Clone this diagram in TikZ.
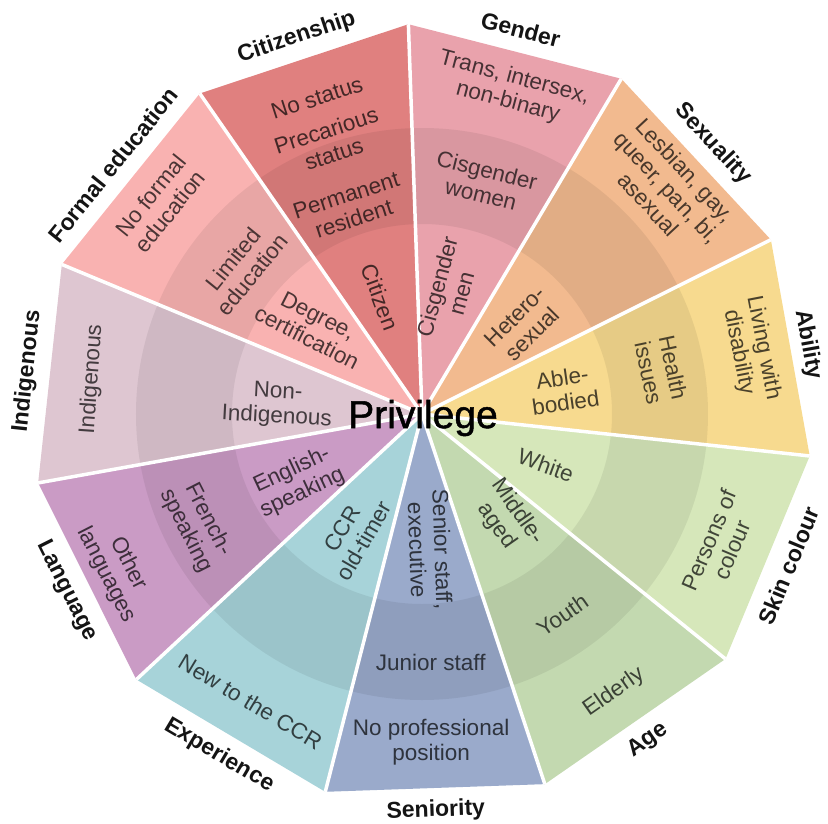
\documentclass[tikz,border=0pt]{standalone}
\usepackage{fontspec}
\setmainfont{Liberation Sans}
\newfontfamily\centrefont[FakeBold=1.3]{Liberation Sans}
\usepackage{xcolor}
\definecolor{citizencol}{HTML}{E0807F}
\definecolor{gendercol}{HTML}{E9A2AC}
\definecolor{sexcol}{HTML}{F2BA8F}
\definecolor{abilitycol}{HTML}{F7DA8F}
\definecolor{skincol}{HTML}{D6E7BA}
\definecolor{agecol}{HTML}{C3D9B0}
\definecolor{senioritycol}{HTML}{9AAACB}
\definecolor{experiencecol}{HTML}{A7D3D9}
\definecolor{languagecol}{HTML}{CA9BC5}
\definecolor{indigenouscol}{HTML}{DEC6D1}
\definecolor{educationcol}{HTML}{F9B2B1}
\tikzstyle{tier} = [align=center, 
inner sep=0pt, 
font=\fontsize{22.5}{25}\selectfont]
\tikzstyle{category} = [inner sep=0pt, 
text=black!92, 
font=\bfseries\fontsize{23}{25}\selectfont]
\tikzstyle{sep} = [line width=3.5pt, white]
\tikzstyle{band} = [fill=black, fill opacity=0.065]

\begin{document}
\begin{tikzpicture}[x=1pt, y=1pt]
  \useasboundingbox (-422,-409) rectangle (406,414);

  \coordinate (o) at (0,0);
  \coordinate (v0) at (92:390);
  \coordinate (v1) at (59.27:390);
  \coordinate (v2) at (26.55:390);
  \coordinate (v3) at (-6.18:390);
  \coordinate (v4) at (-38.91:390);
  \coordinate (v5) at (-71.64:390);
  \coordinate (v6) at (-104.36:390);
  \coordinate (v7) at (-137.09:390);
  \coordinate (v8) at (-169.82:390);
  \coordinate (v9) at (157.45:390);
  \coordinate (v10) at (124.73:390);

  \fill [gendercol] (o) -- (v0) -- (v1) -- cycle;
  \fill [sexcol] (o) -- (v1) -- (v2) -- cycle;
  \fill [abilitycol] (o) -- (v2) -- (v3) -- cycle;
  \fill [skincol] (o) -- (v3) -- (v4) -- cycle;
  \fill [agecol] (o) -- (v4) -- (v5) -- cycle;
  \fill [senioritycol] (o) -- (v5) -- (v6) -- cycle;
  \fill [experiencecol] (o) -- (v6) -- (v7) -- cycle;
  \fill [languagecol] (o) -- (v7) -- (v8) -- cycle;
  \fill [indigenouscol] (o) -- (v8) -- (v9) -- cycle;
  \fill [educationcol] (o) -- (v9) -- (v10) -- cycle;
  \fill [citizencol] (o) -- (v10) -- (v0) -- cycle;

  % middle ring
  \begin{scope}
    \clip (v0) -- (v1) -- (v2) -- (v3) -- (v4) -- (v5) -- (v6) -- (v7) -- (v8) -- (v9) -- (v10) -- cycle;
    \fill [band, even odd rule] (o) circle [radius=286] (o) circle [radius=190];
  \end{scope}

  \draw [sep] (o) -- (v0);
  \draw [sep] (o) -- (v1);
  \draw [sep] (o) -- (v2);
  \draw [sep] (o) -- (v3);
  \draw [sep] (o) -- (v4);
  \draw [sep] (o) -- (v5);
  \draw [sep] (o) -- (v6);
  \draw [sep] (o) -- (v7);
  \draw [sep] (o) -- (v8);
  \draw [sep] (o) -- (v9);
  \draw [sep] (o) -- (v10);

  \node (privilege) [inner sep=0pt, font=\centrefont\fontsize{39}{41}\selectfont] at (1,-4) {Privilege};

  \node (citizenship) [category, rotate=18.4] at (108.4:397) {Citizenship};
  \node (gender) [category, rotate=-14.4] at (75.6:397) {Gender};
  \node (sexuality) [category, rotate=-47.1] at (42.9:397) {Sexuality};
  \node (ability) [category, rotate=-79.8] at (10.2:392) {Ability};
  \node (skin) [category, rotate=67.5] at (-22.5:397) {Skin colour};
  \node (age) [category, rotate=34.7] at (-55.3:397) {Age};
  \node (seniority) [category, rotate=2] at (-88:397) {Seniority};
  \node (experience) [category, rotate=-30.7] at (-120.7:397) {Experience};
  \node (language) [category, rotate=-63.5] at (-153.5:397) {Language};
  \node (indigenous) [category, rotate=83.8] at (173.8:397) {Indigenous};
  \node (education) [category, rotate=51.1] at (141.1:397) {Formal education};

  \node (nostatus) [tier, rotate=18, text=citizencol!30!black] at (108.4:333) {No status};
  \node (precarious) [tier, rotate=18, text=citizencol!30!black] at (108.7:287) {Precarious\\status};
  \node (permanent) [tier, rotate=18, text=citizencol!30!black] at (109.2:219) {Permanent\\resident};
  \node (citizen) [tier, rotate=-70, text=citizencol!30!black] at (109.7:124) {Citizen};

  \node (trans) [tier, rotate=-15, text=gendercol!30!black] at (74.6:336) {Trans, intersex,\\non-binary};
  \node (ciswomen) [tier, rotate=-14, text=gendercol!30!black] at (75:240) {Cisgender\\women};
  \node (cismen) [tier, rotate=75, text=gendercol!30!black] at (77.7:127) {Cisgender\\men};

  \node (lgbtq) [tier, rotate=-47, text=sexcol!30!black] at (42.8:334) {Lesbian, gay,\\queer, pan, bi,\\asexual};
  \node (hetero) [tier, rotate=45, text=sexcol!30!black] at (41.1:135) {Hetero-\\sexual};

  \node (disability) [tier, rotate=-79, text=abilitycol!30!black] at (11:335) {Living with\\disability};
  \node (health) [tier, rotate=-78, text=abilitycol!30!black] at (10.4:243) {Health\\issues};
  \node (able) [tier, rotate=8, text=abilitycol!30!black] at (9.6:144) {Able-\\bodied};

  \node (colour) [tier, rotate=67, text=skincol!30!black] at (-23.7:326) {Persons of\\colour};
  \node (white) [tier, rotate=-20, text=skincol!30!black] at (-22.4:134) {White};

  \node (elderly) [tier, rotate=35, text=agecol!30!black] at (-55.4:338) {Elderly};
  \node (youth) [tier, rotate=35, text=agecol!30!black] at (-55.1:245) {Youth};
  \node (middle) [tier, rotate=-55, text=agecol!30!black] at (-51:135) {Middle-\\aged};

  \node (noposition) [tier, text=senioritycol!30!black] at (-88.4:328) {No professional\\position};
  \node (junior) [tier, text=senioritycol!30!black] at (-88:249) {Junior staff};
  \node (senior) [tier, rotate=-88, text=senioritycol!30!black] at (-86.6:136) {Senior staff,\\executive};

  \node (newccr) [tier, rotate=-31, text=experiencecol!30!black] at (-120.8:335) {New to the CCR};
  \node (oldtimer) [tier, rotate=60, text=experiencecol!30!black] at (-119.7:139) {CCR\\old-timer};

  \node (otherlang) [tier, rotate=-63, text=languagecol!30!black] at (-153:342) {Other\\languages};
  \node (french) [tier, rotate=-63, text=languagecol!30!black] at (-153.7:251) {French-\\speaking};
  \node (english) [tier, rotate=25, text=languagecol!30!black] at (-151.5:142) {English-\\speaking};

  \node (indig) [tier, rotate=86, text=indigenouscol!30!black] at (174:332) {Indigenous};
  \node (nonindig) [tier, rotate=-3, text=indigenouscol!30!black] at (176.4:145) {Non-\\Indigenous};

  \node (noformal) [tier, rotate=51, text=educationcol!30!black] at (141.2:336) {No formal\\education};
  \node (limited) [tier, rotate=51, text=educationcol!30!black] at (140.6:232) {Limited\\education};
  \node (degree) [tier, rotate=-27, text=educationcol!30!black] at (141.4:140) {Degree,\\certification};

\end{tikzpicture}
\end{document}
